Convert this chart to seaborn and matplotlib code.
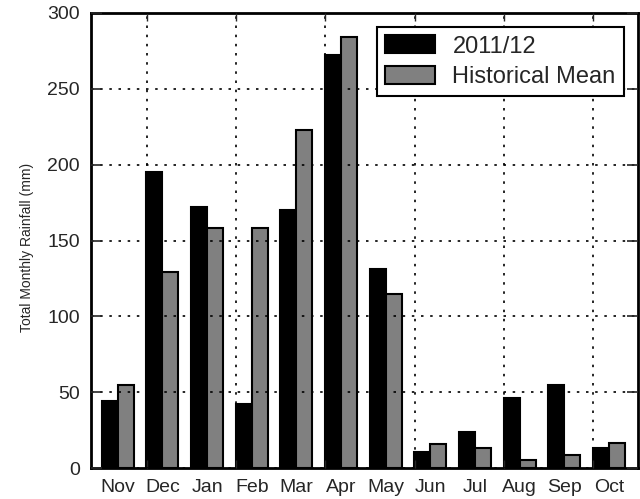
import matplotlib
matplotlib.use("Agg")
import matplotlib.pyplot as plt
import seaborn as sns
import pandas as pd
import numpy as np

months = ["Nov", "Dec", "Jan", "Feb", "Mar", "Apr", "May", "Jun", "Jul", "Aug", "Sep", "Oct"]
rain_2011_12 = [44, 195, 172, 42.5, 170, 272, 131, 10.7, 24, 46, 55, 13.4]
hist_mean = [55, 129, 158.5, 158.5, 223, 284, 114.7, 16, 13.4, 5.5, 8.5, 16.6]
series_names = ["2011/12", "Historical Mean"]
yticks = [0, 50, 100, 150, 200, 250, 300]

df = pd.DataFrame({
    "month": months * 2,
    "value": rain_2011_12 + hist_mean,
    "series": [series_names[0]] * 12 + [series_names[1]] * 12,
})

sns.set_style("white")
plt.rcParams["font.family"] = ["Liberation Sans", "DejaVu Sans"]

fig = plt.figure(figsize=(6.4, 4.99), dpi=100)
ax = fig.add_axes([0.142, 0.062, 0.855, 0.912])

sns.barplot(data=df, x="month", y="value", hue="series", order=months,
            hue_order=series_names, palette=["black", "#808080"],
            width=0.72, edgecolor="black", linewidth=1.5, saturation=1,
            ax=ax, errorbar=None)

ax.set_xlim(-0.6, 11.65)
ax.set_ylim(0, 300)
ax.set_yticks(yticks)

# major ticks (with grid) between groups, labels at group centres via minor ticks
grid_pos = np.arange(0.65, 11.0, 2.0)
ax.set_xticks(grid_pos)
ax.set_xticklabels([])
ax.set_xticks(np.arange(len(months)), minor=True)
ax.set_xticklabels(months, minor=True, fontsize=14)
ax.tick_params(axis="x", which="minor", length=0, pad=8)
ax.tick_params(axis="x", which="major", direction="in", length=6, width=1, top=True, bottom=True)
ax.tick_params(axis="y", direction="in", length=8, width=1.2, left=True, right=True,
               labelsize=14, pad=8)

ax.grid(True, which="major", linestyle=(0, (1.5, 4)), color="black", linewidth=1.2)
ax.set_axisbelow(False)
for sp in ax.spines.values():
    sp.set_visible(True)
    sp.set_color("black")
    sp.set_linewidth(2)

ax.set_xlabel("")
ax.set_ylabel("Total Monthly Rainfall (mm)", fontsize=10)
ax.yaxis.set_label_coords(-0.104, 0.485)

leg = ax.legend(loc="upper right", fontsize=17, frameon=True, fancybox=False,
                edgecolor="black", framealpha=1, handlelength=2.1, handleheight=0.8,
                handletextpad=0.75, borderpad=0.35, labelspacing=0.35,
                borderaxespad=0.6)
leg.get_frame().set_linewidth(1.5)

fig.savefig("out.png", dpi=100)
